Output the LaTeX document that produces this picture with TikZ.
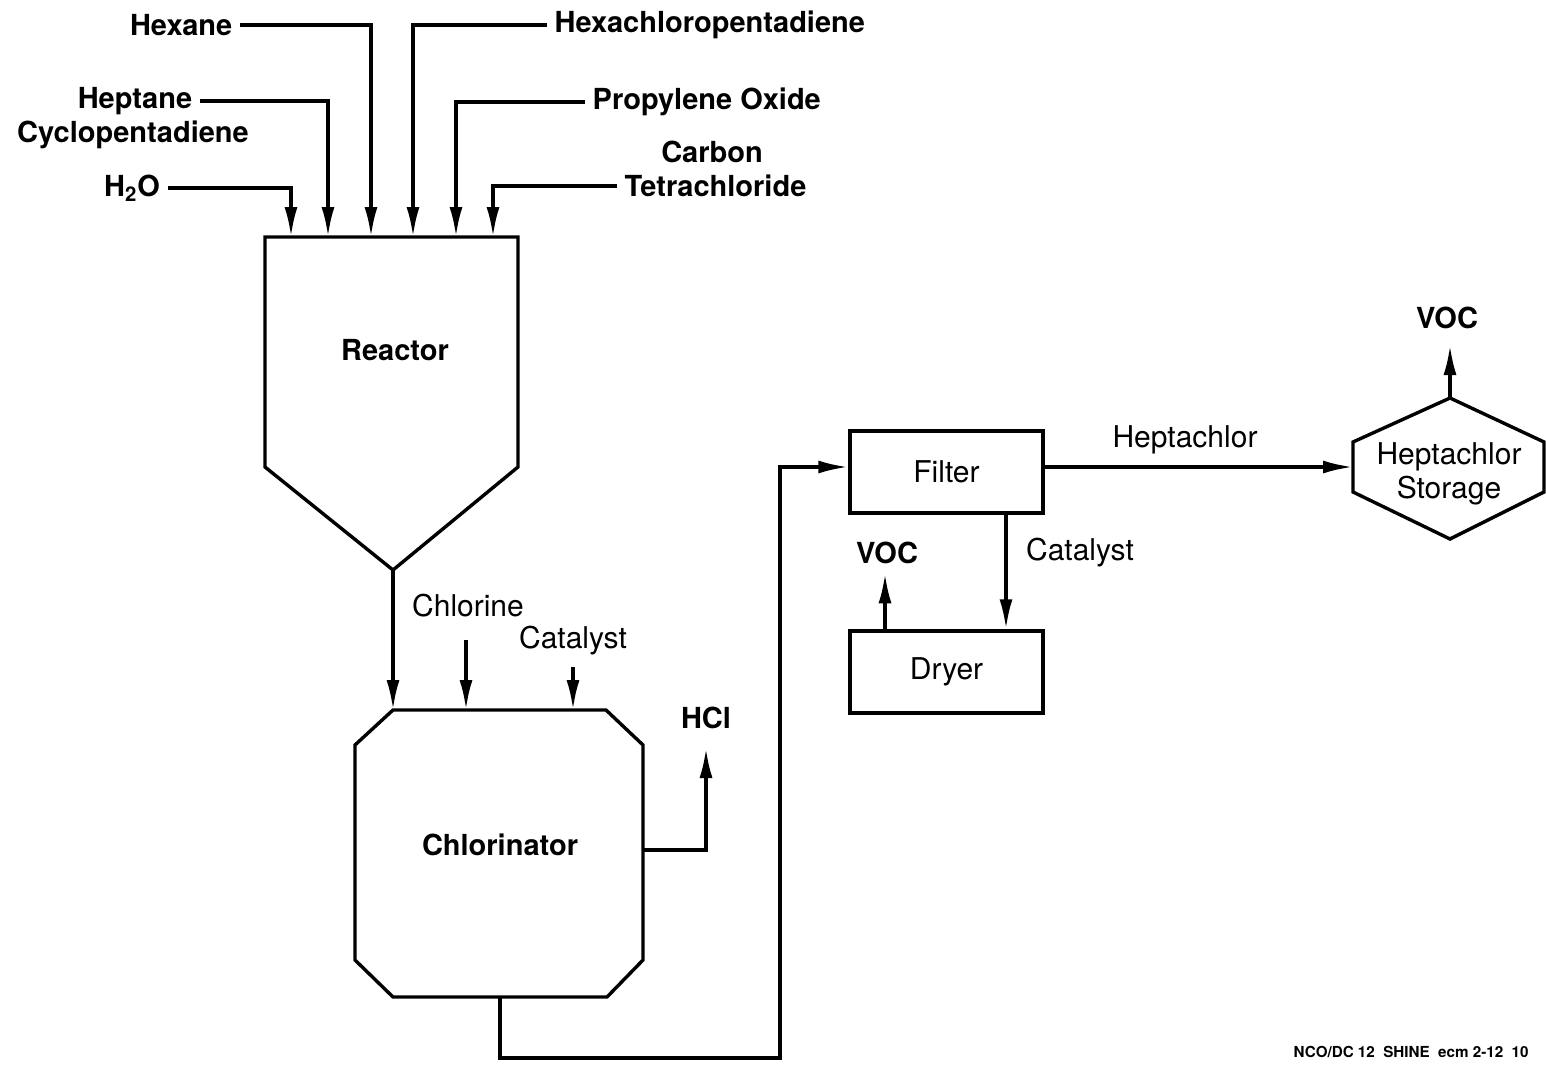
\documentclass[tikz,border=0pt]{standalone}
\usepackage{fontspec}
\setmainfont{TeX Gyre Heros}
\usetikzlibrary{arrows.meta, positioning}

\begin{document}
\begin{tikzpicture}[x=0.5pt, y=-0.5pt, line width=1.7pt,
    lbl/.style={font=\fontsize{14.5}{17}\selectfont\bfseries, inner sep=3pt},
    txt/.style={font=\fontsize{15}{17}\selectfont, inner sep=3pt},
    flow/.style={-{Latex[length=15pt,width=6.5pt]}, line width=1.7pt},
    unit/.style={rectangle, draw, line width=1.7pt, minimum width=96.5pt, minimum height=41pt, font=\fontsize{15}{17}\selectfont}]
    \useasboundingbox (0,0) rectangle (1546,1065);

    % Define nodes
    \node (hexane) [lbl, anchor=east] at (240,25) {Hexane};
    \node (heptane) [lbl] at (135,101) {Heptane};
    \node (cyclo) [lbl] at (133,135) {Cyclopentadiene};
    \node (water) [lbl] at (132,188) {H\textsubscript{2}O};
    \node (hexachloro) [lbl, anchor=west] at (547,25) {Hexachloropentadiene};
    \node (propylene) [lbl, anchor=west] at (585,102) {Propylene Oxide};
    \node (carbon) [lbl] at (712,152) {Carbon};
    \node (tetra) [lbl, anchor=west] at (617,186) {Tetrachloride};
    \node (reactor) [lbl] at (395,350) {Reactor};
    \node (chlorinator) [lbl] at (500,845) {Chlorinator};
    \node (chlorine) [txt] at (468,606) {Chlorine};
    \node (catalyst) [txt] at (573,641) {Catalyst};
    \node (hcl) [lbl] at (706,718) {HCl};
    \node (filter) [unit] at (946.5,472) {Filter};
    \node (dryer) [unit] at (946.5,672) {Dryer};
    \node (heptachlor) [txt] at (1185,440) {Heptachlor};
    \node (storage) [txt, align=center, font=\fontsize{15}{17}\selectfont] at (1449,474) {Heptachlor\\Storage};
    \node (vocstore) [lbl] at (1447,318) {VOC};
    \node (vocdry) [lbl] at (887,553) {VOC};
    \node (catdry) [txt] at (1080,553) {Catalyst};
    \node (tag) [font=\fontsize{7.6}{9}\selectfont\bfseries, anchor=west, inner sep=0pt] at (1292,1052) {NCO/DC 12 \ SHINE \ ecm 2-12 \ 10};

    % Vessel outlines
    \draw (265,237) -- (518,237) -- (518,467) -- (393,570) -- (265,467) -- cycle;
    \draw (393,710) -- (606,710) -- (643,745) -- (643,960) -- (607,997) -- (393,997) -- (355,960) -- (355,745) -- cycle;
    \draw (1450,398) -- (1544,442) -- (1544,492) -- (1450,539) -- (1353,492) -- (1353,442) -- cycle;

    % Ports
    \coordinate (in1) at (291,237);
    \coordinate (in2) at (328,237);
    \coordinate (in3) at (371,237);
    \coordinate (in4) at (413,237);
    \coordinate (in5) at (456,237);
    \coordinate (in6) at (493,237);
    \coordinate (rout) at (393,570);
    \coordinate (cin) at (393,710);
    \coordinate (clsrc) at (466,640);
    \coordinate (clin) at (466,710);
    \coordinate (catsrc) at (573,667);
    \coordinate (catin) at (573,710);
    \coordinate (hclout) at (643,850);
    \coordinate (hcltop) at (706,748);
    \coordinate (cout) at (500,997);
    \coordinate (stin) at (1353,467);
    \coordinate (sttop) at (1450,398);
    \coordinate (stvent) at (1450,345);

    % Draw edges
    \draw[flow] (water.east) -| (in1);
    \draw[flow] (heptane.east) -| (in2);
    \draw[flow] (hexane.east) -| (in3);
    \draw[flow] (hexachloro.west) -| (in4);
    \draw[flow] (propylene.west) -| (in5);
    \draw[flow] (tetra.west) -| (in6);
    \draw[flow] (rout) -- (cin);
    \draw[flow] (clsrc) -- (clin);
    \draw[flow] (catsrc) -- (catin);
    \draw[flow] (hclout) -| (hcltop);
    \draw[flow] (cout) -- (500,1058) -- (780,1058) |- ([yshift=2.5pt]filter.west);
    \draw[flow] ([yshift=2.5pt]filter.east) -- (stin);
    \draw[flow] (sttop) -- (stvent);
    \draw[flow] ([xshift=29.75pt]filter.south) -- ([xshift=29.75pt]dryer.north);
    \draw[flow] ([xshift=-30.75pt]dryer.north) -- ++(0,-56);
\end{tikzpicture}
\end{document}
